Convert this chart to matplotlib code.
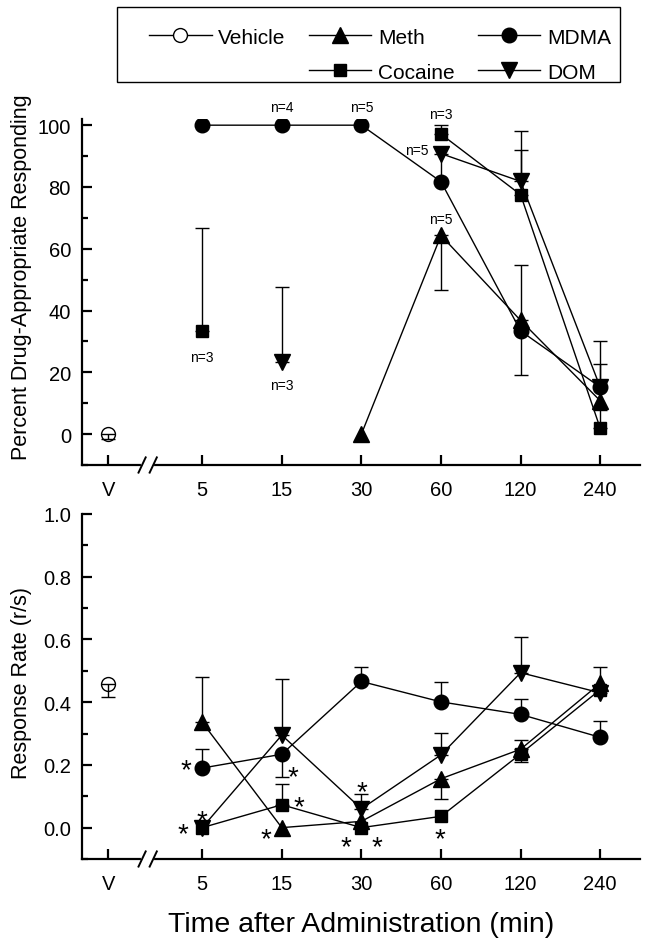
import numpy as np
import matplotlib
matplotlib.use("Agg")
import matplotlib.pyplot as plt
from matplotlib.lines import Line2D
from matplotlib.patches import Rectangle
from matplotlib.ticker import MultipleLocator, FormatStrFormatter
from matplotlib.transforms import blended_transform_factory

plt.rcParams["font.family"] = ["Liberation Sans", "DejaVu Sans"]

# Time points after administration (min); vehicle is drawn left of the break.
times = ["5", "15", "30", "60", "120", "240"]
tick_labels = ["V"] + times

# Percent drug-appropriate responding (top panel)
vehicle_pct = 0.0
vehicle_pct_lo = 1.5
meth_pct = [np.nan, np.nan, 0.0, 64.3, 36.8, 10.8]
meth_pct_lo = [0, 0, 0, 17.6, 0, 0]
meth_pct_hi = [0, 0, 0, 0, 17.8, 0]
mdma_pct = [100.0, 100.0, 100.0, 81.7, 33.4, 15.2]
mdma_pct_lo = [0, 0, 0, 0, 14.4, 0]
mdma_pct_hi = [0, 0, 0, 0, 0, 15.1]
cocaine_pct = [33.3, np.nan, np.nan, 97.1, 77.5, 1.9]
cocaine_pct_lo = [0, 0, 0, 0, 0, 0]
cocaine_pct_hi = [33.4, 0, 0, 2.9, 20.7, 6.0]
dom_pct = [np.nan, 23.2, np.nan, 90.8, 81.8, 15.2]
dom_pct_lo = [0, 0, 0, 9.0, 0, 0]
dom_pct_hi = [0, 24.4, 0, 0, 10.2, 7.5]

# Response rate (r/s) (bottom panel)
vehicle_rate = 0.457
vehicle_rate_lo = 0.039
meth_rate = [0.336, 0.0, 0.02, 0.156, 0.25, 0.46]
meth_rate_lo = [0, 0, 0, 0.064, 0, 0]
meth_rate_hi = [0.144, 0, 0, 0, 0.03, 0]
mdma_rate = [0.19, 0.234, 0.466, 0.401, 0.361, 0.288]
mdma_rate_lo = [0, 0.074, 0, 0, 0, 0]
mdma_rate_hi = [0.06, 0, 0.047, 0.063, 0.049, 0.052]
cocaine_rate = [0.0, 0.073, 0.0, 0.036, 0.235, 0.44]
cocaine_rate_lo = [0, 0, 0, 0, 0.025, 0]
cocaine_rate_hi = [0, 0.067, 0, 0, 0, 0]
dom_rate = [0.0, 0.295, 0.06, 0.232, 0.494, 0.43]
dom_rate_lo = [0, 0, 0, 0, 0, 0]
dom_rate_hi = [0, 0.178, 0.048, 0.071, 0.114, 0.083]

# Sample size notes on the top panel: (time index, y, text)
n_notes = [(1.0, 25.0, "n=3"), (2.0, 16.0, "n=3"), (2.0, 106.0, "n=4"),
           (3.0, 106.0, "n=5"), (4.0, 103.5, "n=3"), (3.70, 92.0, "n=5"),
           (4.0, 69.5, "n=5")]

# Significance asterisks on the bottom panel: (time index, y)
stars = [(0.80, 0.21), (1.0, 0.048), (0.76, 0.007), (2.14, 0.188),
         (2.21, 0.09), (1.80, -0.01), (3.0, 0.14), (2.81, -0.037),
         (3.20, -0.037), (3.99, -0.01)]

X = np.arange(1, len(times) + 1)
V_POS = -0.18
MARKERS = {"meth": ("^", 11), "mdma": ("o", 10.5), "cocaine": ("s", 9),
           "dom": ("v", 11)}


def draw_series(ax, y, lo, hi, key):
    """ Draw one drug series with one-sided error bars. """
    y = np.asarray(y, dtype=float)
    lo = np.asarray(lo, dtype=float)
    hi = np.asarray(hi, dtype=float)
    mask = (lo > 0) | (hi > 0)
    if mask.any():
        ax.errorbar(X[mask], y[mask], yerr=[lo[mask], hi[mask]], fmt="none",
                    ecolor="black", elinewidth=1, capsize=5, capthick=1,
                    zorder=2)
    m, ms = MARKERS[key]
    ax.plot(X, y, color="black", lw=1, marker=m, ms=ms, mfc="black",
            mec="black", zorder=3)


def draw_vehicle(ax, y, lo):
    ax.plot([V_POS], [y], marker="o", ms=10, mfc="white", mec="black",
            mew=1, ls="none", zorder=3)
    ax.errorbar([V_POS], [y], yerr=[[lo], [0]], fmt="none", ecolor="black",
                elinewidth=1, capsize=5, capthick=1, zorder=4)


def style_axis(ax):
    for s in ("top", "right"):
        ax.spines[s].set_visible(False)
    for s in ("left", "bottom"):
        ax.spines[s].set_linewidth(1.6)
    ax.set_xlim(-0.51, 6.5)
    ax.set_xticks([V_POS] + list(X))
    ax.set_xticklabels(tick_labels)
    ax.tick_params(axis="both", which="major", direction="in", length=7,
                   width=1.6, labelsize=14.5, pad=8)
    ax.tick_params(axis="x", which="major", pad=11)
    ax.tick_params(axis="y", which="minor", direction="in", length=4.5,
                   width=1.6)
    # axis break marks between V and 5
    tr = blended_transform_factory(ax.transData, ax.transAxes)
    ax.plot([0.255, 0.375], [0, 0], color="white", lw=3, transform=tr,
            clip_on=False, zorder=5)
    for xc in (0.245, 0.385):
        ax.plot([xc - 0.045, xc + 0.045], [-0.022, 0.022], color="black",
                lw=1.4, transform=tr, clip_on=False, zorder=6)


fig = plt.figure(figsize=(6.49, 9.45), dpi=100)
ax1 = fig.add_axes([82 / 649, 1 - 466 / 945, 558 / 649, 346 / 945])
ax2 = fig.add_axes([82 / 649, 1 - 860 / 945, 558 / 649, 345 / 945])

# Top panel
draw_vehicle(ax1, vehicle_pct, vehicle_pct_lo)
draw_series(ax1, meth_pct, meth_pct_lo, meth_pct_hi, "meth")
draw_series(ax1, mdma_pct, mdma_pct_lo, mdma_pct_hi, "mdma")
draw_series(ax1, cocaine_pct, cocaine_pct_lo, cocaine_pct_hi, "cocaine")
draw_series(ax1, dom_pct, dom_pct_lo, dom_pct_hi, "dom")
ax1.set_ylim(-10, 102)
ax1.yaxis.set_major_locator(MultipleLocator(20))
ax1.yaxis.set_minor_locator(MultipleLocator(10))
style_axis(ax1)
ax1.set_ylabel("Percent Drug-Appropriate Responding", fontsize=15.5,
               va="center")
ax1.yaxis.set_label_coords(-0.108, 0.545)
for xi, yi, t in n_notes:
    ax1.text(xi, yi, t, ha="center", va="center", fontsize=10,
             clip_on=False)

# Bottom panel
draw_vehicle(ax2, vehicle_rate, vehicle_rate_lo)
draw_series(ax2, meth_rate, meth_rate_lo, meth_rate_hi, "meth")
draw_series(ax2, mdma_rate, mdma_rate_lo, mdma_rate_hi, "mdma")
draw_series(ax2, cocaine_rate, cocaine_rate_lo, cocaine_rate_hi, "cocaine")
draw_series(ax2, dom_rate, dom_rate_lo, dom_rate_hi, "dom")
ax2.set_ylim(-0.1, 1.0)
ax2.yaxis.set_major_locator(MultipleLocator(0.2))
ax2.yaxis.set_minor_locator(MultipleLocator(0.1))
ax2.yaxis.set_major_formatter(FormatStrFormatter("%.1f"))
style_axis(ax2)
ax2.set_ylabel("Response Rate (r/s)", fontsize=15.5, va="center")
ax2.yaxis.set_label_coords(-0.108, 0.513)
ax2.set_xlabel("Time after Administration (min)", fontsize=20.5, labelpad=13)
for xi, yi in stars:
    ax2.annotate("*", xy=(xi, yi), xytext=(0, -11),
                 textcoords="offset points", ha="center", va="baseline",
                 fontsize=20)

# Legend: entries without frame, box drawn separately
handles = [
    Line2D([], [], color="black", lw=1, marker="o", ms=10, mfc="white",
           mec="black"),
    Line2D([], [], color="none"),
    Line2D([], [], color="black", lw=1, marker="^", ms=11, mfc="black"),
    Line2D([], [], color="black", lw=1, marker="s", ms=9, mfc="black"),
    Line2D([], [], color="black", lw=1, marker="o", ms=10.5, mfc="black"),
    Line2D([], [], color="black", lw=1, marker="v", ms=11, mfc="black"),
]
labels = ["Vehicle", "", "Meth", "Cocaine", "MDMA", "DOM"]
fig.legend(handles, labels, ncol=3, loc="upper left",
           bbox_to_anchor=(149 / 649, 1 - 28.5 / 945), borderaxespad=0,
           borderpad=0, fontsize=15, handlelength=3.0, handletextpad=0.33,
           labelspacing=0.78, columnspacing=1.1, frameon=False)
fig.add_artist(Rectangle((117 / 649, 1 - 83 / 945), 503 / 649, 75 / 945,
                         transform=fig.transFigure, fill=False,
                         edgecolor="black", lw=1))

fig.savefig("out.png", dpi=100)
